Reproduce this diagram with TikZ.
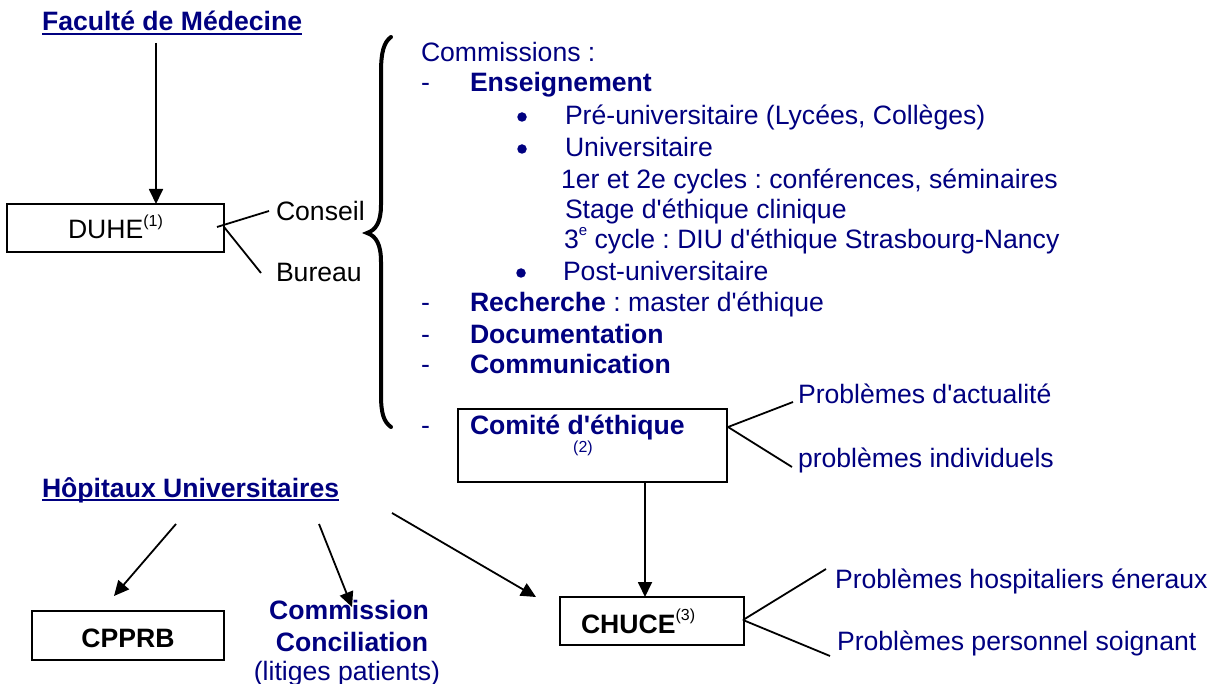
\documentclass[tikz,border=0pt]{standalone}
\usepackage{fontspec}
\setmainfont{Liberation Sans}[Ligatures=TeXOff]
\usetikzlibrary{arrows.meta}
\definecolor{navy}{RGB}{0,0,128}
\frenchspacing
\begin{document}
\begin{tikzpicture}[x=1pt,y=-1pt,
  every node/.style={inner sep=0pt, outer sep=0pt, font=\fontsize{26.6}{30}\selectfont},
  txt/.style={anchor=base west, text=navy},
  btxt/.style={anchor=base west, text=navy, font=\fontsize{26.6}{30}\selectfont\bfseries},
  blk/.style={anchor=base west, text=black},
  bblk/.style={anchor=base west, text=black, font=\fontsize{26.6}{30}\selectfont\bfseries},
  box/.style={draw, line width=2pt},
  conn/.style={line width=1.8pt},
  arr/.style={line width=1.8pt, -{Triangle[length=15pt,width=14pt]}},
  bul/.style={circle, fill=navy, minimum size=9.5pt},
  ul/.style={navy, line width=2.5pt}
]
\useasboundingbox (0,0) rectangle (1213,684);

% Faculte
\node[btxt] (fac) at (42,31) {Faculté de Médecine};
\draw[ul] ([yshift=-3pt]fac.base west) -- ([yshift=-3pt]fac.base east);

% DUHE
\node[box, minimum width=217pt, minimum height=48pt] (duhe) at (115.5,228) {};
\node[blk] (duhet) at (68,239) {DUHE\raisebox{12pt}{\fontsize{16}{16}\selectfont(1)}};
\coordinate (fa) at (156,43);
\draw[arr] (fa) -- (fa |- duhe.north);

\node[blk] (cons) at (276,221) {Conseil};
\node[blk] (bur) at (276,282) {Bureau};
\coordinate (dc) at (217,227);
\coordinate (db) at (224,227);
\coordinate (ce) at (269,211);
\coordinate (be) at (261,273);
\draw[conn] (dc) -- (ce);
\draw[conn] (db) -- (be);

% brace
\draw[line width=4pt, line cap=round]
  (391,37) .. controls (384,42) and (381,52) .. (381,72) -- (381,205)
  .. controls (381,222) and (376,230) .. (367,233)
  .. controls (376,236) and (381,244) .. (381,262) -- (381,395)
  .. controls (381,414) and (384,422) .. (391,427);

% commissions list
\node[txt] (com) at (421,62) {Commissions :};
\node[txt] (d1) at (421,92) {-};
\node[btxt] (ens) at (470,92) {Enseignement};
\node[bul] (b1) at (522,117) {};
\node[txt] (pre) at (565,125) {Pré-universitaire (Lycées, Collèges)};
\node[bul] (b2) at (522,149) {};
\node[txt] (uni) at (565,157) {Universitaire};
\node[txt] (cyc) at (561,189) {1er et 2e cycles : conférences, séminaires};
\node[txt] (sta) at (565,219) {Stage d'éthique clinique};
\node[txt] (diu) at (564,249) {3\raisebox{13pt}{\fontsize{15}{15}\selectfont e} cycle : DIU d'éthique Strasbourg-Nancy};
\node[bul] (b3) at (521,273) {};
\node[txt] (post) at (563,281) {Post-universitaire};
\node[txt] (d2) at (421,312) {-};
\node[txt] (rec) at (470,312) {\textbf{Recherche} : master d'éthique};
\node[txt] (d3) at (421,344) {-};
\node[btxt] (doc) at (470,344) {Documentation};
\node[txt] (d4) at (421,374) {-};
\node[btxt] (comm) at (470,374) {Communication};

% Comite d'ethique
\node[box, minimum width=269pt, minimum height=73pt] (comite) at (592.5,445.5) {};
\node[txt] (d5) at (421,435) {-};
\node[btxt] (comt) at (470,435) {Comité d'éthique};
\node[txt, anchor=base, font=\fontsize{16}{16}\selectfont] (n2) at (583,452) {(2)};
\node[txt] (pa) at (798,404) {Problèmes d'actualité};
\node[txt] (pi) at (798,467) {problèmes individuels};
\coordinate (cj) at (728,427);
\coordinate (pae) at (793,402);
\coordinate (pie) at (792,467);
\draw[conn] (cj) -- (pae);
\draw[conn] (cj) -- (pie);

% Hopitaux
\node[btxt] (hop) at (42,497) {Hôpitaux Universitaires};
\draw[ul] ([yshift=-3pt]hop.base west) -- ([yshift=-3pt]hop.base east);

% CPPRB
\node[box, minimum width=192pt, minimum height=49pt] (cpprb) at (128,635.5) {};
\node[bblk, anchor=base] (cpprbt) at (128,647) {CPPRB};

% Commission Conciliation
\node[btxt, anchor=base] (cc1) at (349,619) {Commission};
\node[btxt, anchor=base] (cc2) at (352,651) {Conciliation};
\node[txt, anchor=base] (cc3) at (347,680) {(litiges patients)};

% CHUCE
\node[box, minimum width=184pt, minimum height=48pt] (chuce) at (652,621) {};
\node[bblk] (chucet) at (581,633) {CHUCE\raisebox{13pt}{\fontsize{16}{16}\selectfont\mdseries(3)}};
\coordinate (v1) at (645,482);
\draw[arr] (v1) -- (v1 |- chuce.north);

\node[txt] (ph) at (835,588) {Problèmes hospitaliers éneraux};
\node[txt] (pp) at (837,650) {Problèmes personnel soignant};
\coordinate (hj) at (743,620);
\coordinate (h1) at (826,569);
\coordinate (h2) at (830,656);
\draw[conn] (hj) -- (h1);
\draw[conn] (hj) -- (h2);

% arrows from Hopitaux
\coordinate (ha1) at (176,524);
\coordinate (ht1) at (114,596);
\coordinate (ha2) at (319,524);
\coordinate (ht2) at (352,607);
\coordinate (ha3) at (392,513);
\coordinate (ht3) at (536,597);
\draw[arr] (ha1) -- (ht1);
\draw[arr] (ha2) -- (ht2);
\draw[arr] (ha3) -- (ht3);
\end{tikzpicture}
\end{document}
